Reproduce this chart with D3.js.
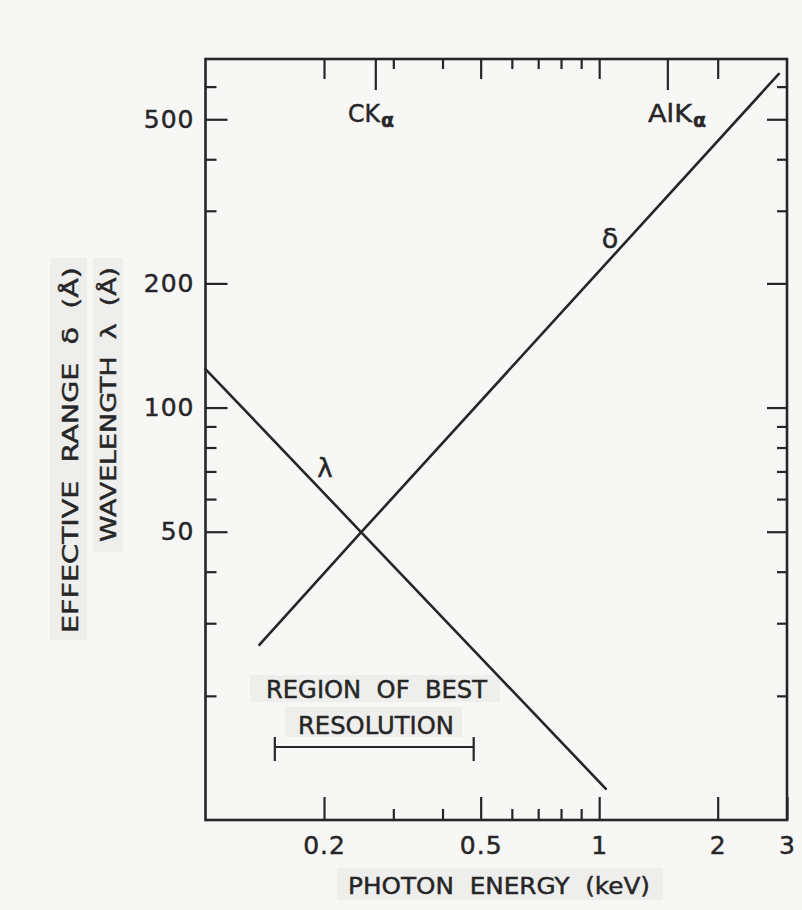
<!DOCTYPE html>
<html>
<head>
<meta charset="utf-8">
<script src="https://cdn.jsdelivr.net/npm/d3@7"></script>
<style>
  html, body { margin: 0; padding: 0; background: #f7f7f6; }
  svg { display: block; }
  text { font-family: "DejaVu Sans", "Liberation Sans", sans-serif; fill: #262626;
         stroke: #262626; stroke-width: 0.45px; white-space: pre; }
</style>
</head>
<body>
<svg id="chart" width="802" height="910"></svg>
<script>
// Effective range δ versus photon energy
const energyDelta = [0.137, 0.246, 2.86];
const rangeDelta  = [26.6, 49.3, 644];

// Wavelength λ versus photon energy
const energyLambda = [0.1, 0.246, 1.04];
const wavelength   = [124, 50.4, 11.9];

// Axis ticks
const xMajorTicks = [0.2, 0.5, 1, 2, 3];
const xMinorTicks = [0.3, 0.4, 0.6, 0.7, 0.8, 0.9];
const lineTicks   = [0.27, 1.49];          // CKα, AlKα
const yMajorTicks = [500, 200, 100, 50];
const yMinorTicks = [600, 400, 300, 90, 80, 70, 60, 40, 30, 20];

// Region of best resolution
const bestRegion = [0.15, 0.48];

const svg = d3.select("#chart");
const plotLeft = 205.5, plotRight = 787, plotTop = 59, plotBottom = 820;

const x = d3.scaleLog().domain([0.1, 3]).range([plotLeft, plotRight]);
const y = d3.scaleLog().domain([10, 700]).range([plotBottom, plotTop]);

const ink = "#262626";

// pasted label strips
const strips = [
  [50, 258, 37, 382], [93, 258, 30, 294],
  [337, 868, 326, 32], [250, 675, 250, 27], [285, 707, 177, 30]
];
svg.append("g").selectAll("rect").data(strips).join("rect")
  .attr("x", d => d[0]).attr("y", d => d[1])
  .attr("width", d => d[2]).attr("height", d => d[3])
  .attr("fill", "#eeeeed");

function styleAxis(g) {
  g.select(".domain").remove();
  g.selectAll(".tick line").attr("stroke", ink).attr("stroke-width", 2.2);
  g.selectAll(".tick text")
    .attr("font-size", 25).attr("fill", ink)
    .style("font-family", "'DejaVu Sans', sans-serif")
    .style("letter-spacing", "1px");
}

const fmt = d => String(d);

// bottom axis
svg.append("g").attr("transform", `translate(0,${plotBottom})`)
  .call(d3.axisBottom(x).tickValues(xMajorTicks).tickFormat(fmt)
    .tickSizeInner(-23).tickSizeOuter(0).tickPadding(16))
  .call(styleAxis);
svg.append("g").attr("transform", `translate(0,${plotBottom})`)
  .call(d3.axisBottom(x).tickValues(xMinorTicks).tickFormat("")
    .tickSizeInner(-11).tickSizeOuter(0))
  .call(styleAxis);

// top axis
svg.append("g").attr("transform", `translate(0,${plotTop})`)
  .call(d3.axisTop(x).tickValues(xMajorTicks.slice(0, 4)).tickFormat("")
    .tickSizeInner(-20).tickSizeOuter(0))
  .call(styleAxis);
svg.append("g").attr("transform", `translate(0,${plotTop})`)
  .call(d3.axisTop(x).tickValues(xMinorTicks).tickFormat("")
    .tickSizeInner(-10).tickSizeOuter(0))
  .call(styleAxis);
svg.append("g").attr("transform", `translate(0,${plotTop})`)
  .call(d3.axisTop(x).tickValues(lineTicks).tickFormat("")
    .tickSizeInner(-31).tickSizeOuter(0))
  .call(styleAxis);

// left axis
svg.append("g").attr("transform", `translate(${plotLeft},0)`)
  .call(d3.axisLeft(y).tickValues(yMajorTicks).tickFormat(fmt)
    .tickSizeInner(-22).tickSizeOuter(0).tickPadding(11))
  .call(styleAxis);
svg.append("g").attr("transform", `translate(${plotLeft},0)`)
  .call(d3.axisLeft(y).tickValues(yMinorTicks).tickFormat("")
    .tickSizeInner(-11).tickSizeOuter(0))
  .call(styleAxis);

// right axis
svg.append("g").attr("transform", `translate(${plotRight},0)`)
  .call(d3.axisRight(y).tickValues(yMajorTicks).tickFormat("")
    .tickSizeInner(-20).tickSizeOuter(0))
  .call(styleAxis);
svg.append("g").attr("transform", `translate(${plotRight},0)`)
  .call(d3.axisRight(y).tickValues(yMinorTicks).tickFormat("")
    .tickSizeInner(-10).tickSizeOuter(0))
  .call(styleAxis);

// frame
svg.append("rect")
  .attr("x", plotLeft).attr("y", plotTop)
  .attr("width", plotRight - plotLeft).attr("height", plotBottom - plotTop)
  .attr("fill", "none").attr("stroke", ink).attr("stroke-width", 2.6);

// curves
const line = d3.line().x(d => x(d[0])).y(d => y(d[1]));
const deltaPts = energyDelta.map((e, i) => [e, rangeDelta[i]]);
const lambdaPts = energyLambda.map((e, i) => [e, wavelength[i]]);
[deltaPts, lambdaPts].forEach(pts => {
  svg.append("path").datum(pts).attr("d", line)
    .attr("fill", "none").attr("stroke", ink)
    .attr("stroke-width", 2.6).attr("stroke-linecap", "round");
});

// curve labels
svg.append("text").attr("x", 610).attr("y", 248).attr("text-anchor", "middle")
  .attr("font-size", 27).text("δ");
svg.append("text").attr("x", 325).attr("y", 477).attr("text-anchor", "middle")
  .attr("font-size", 26).text("λ");

// characteristic lines
function kAlpha(xp, base, w) {
  const t = svg.append("text").attr("x", xp).attr("y", 122).attr("font-size", 24);
  t.append("tspan").attr("textLength", w).attr("lengthAdjust", "spacingAndGlyphs").text(base);
  t.append("tspan").attr("dy", 5).attr("dx", 1).attr("font-size", 19)
    .attr("font-weight", "bold").text("α");
}
kAlpha(348, "CK", 32);
kAlpha(648, "AlK", 44);

// region of best resolution
svg.append("text").attr("x", 266).attr("y", 698).attr("font-size", 24)
  .attr("textLength", 221).attr("lengthAdjust", "spacingAndGlyphs").text("REGION  OF  BEST");
svg.append("text").attr("x", 298).attr("y", 734).attr("font-size", 24)
  .attr("textLength", 156).attr("lengthAdjust", "spacingAndGlyphs").text("RESOLUTION");

const barY = 747;
const bar = svg.append("g").attr("stroke", ink).attr("stroke-width", 2.2);
bar.append("line").attr("x1", x(bestRegion[0])).attr("x2", x(bestRegion[1]))
  .attr("y1", barY).attr("y2", barY);
bestRegion.forEach(e => {
  bar.append("line").attr("x1", x(e)).attr("x2", x(e))
    .attr("y1", barY - 10).attr("y2", barY + 14);
});

// axis titles
svg.append("text").attr("x", 348).attr("y", 894).attr("font-size", 23)
  .attr("textLength", 302).attr("lengthAdjust", "spacingAndGlyphs")
  .text("PHOTON  ENERGY  (keV)");
svg.append("text").attr("transform", "translate(78,267) rotate(-90)")
  .attr("text-anchor", "end").attr("font-size", 22)
  .attr("textLength", 366).attr("lengthAdjust", "spacingAndGlyphs")
  .text("EFFECTIVE  RANGE  δ  (Å)");
svg.append("text").attr("transform", "translate(116,267) rotate(-90)")
  .attr("text-anchor", "end").attr("font-size", 22)
  .attr("textLength", 275).attr("lengthAdjust", "spacingAndGlyphs")
  .text("WAVELENGTH  λ  (Å)");
</script>
</body>
</html>
